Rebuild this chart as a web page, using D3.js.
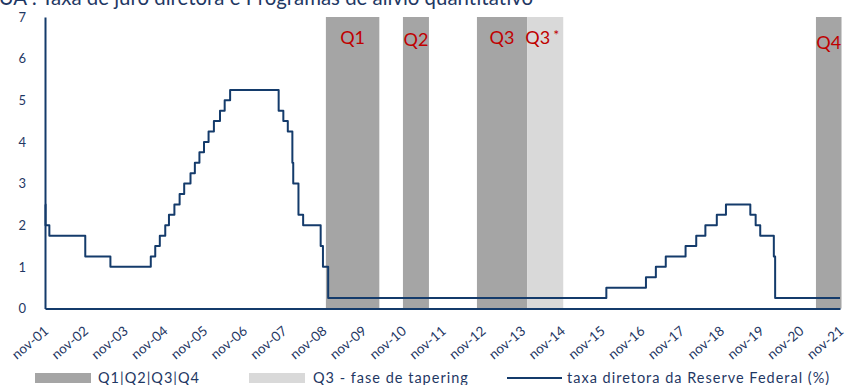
<!DOCTYPE html>
<html>
<head>
<meta charset="utf-8">
<script src="https://cdn.jsdelivr.net/npm/d3@7"></script>
<style>
  html, body { margin: 0; padding: 0; background: #ffffff; }
  svg { display: block; font-family: Lato, "Open Sans", sans-serif; }
</style>
</head>
<body>
<svg id="chart" width="845" height="385"></svg>
<script>
// Fed funds target rate (upper bound), change dates and new level in %
const rateDates = [
  "2001-11-01", "2001-11-06", "2001-12-11", "2002-11-06", "2003-06-25",
  "2004-06-30", "2004-08-10", "2004-09-21", "2004-11-10", "2004-12-14",
  "2005-02-02", "2005-03-22", "2005-05-03", "2005-06-30", "2005-08-09",
  "2005-09-20", "2005-11-01", "2005-12-13", "2006-01-31", "2006-03-28",
  "2006-05-10", "2006-06-29", "2007-09-18", "2007-10-31", "2007-12-11",
  "2008-01-22", "2008-01-30", "2008-03-18", "2008-04-30", "2008-10-08",
  "2008-10-29", "2008-12-16", "2015-12-16", "2016-12-14", "2017-03-15",
  "2017-06-14", "2017-12-13", "2018-03-21", "2018-06-13", "2018-09-26",
  "2018-12-19", "2019-07-31", "2019-09-18", "2019-10-30", "2020-03-03",
  "2020-03-15", "2021-11-01"
];
const rateValues = [
  2.50, 2.00, 1.75, 1.25, 1.00,
  1.25, 1.50, 1.75, 2.00, 2.25,
  2.50, 2.75, 3.00, 3.25, 3.50,
  3.75, 4.00, 4.25, 4.50, 4.75,
  5.00, 5.25, 4.75, 4.50, 4.25,
  3.50, 3.00, 2.25, 2.00, 1.50,
  1.00, 0.25, 0.50, 0.75, 1.00,
  1.25, 1.50, 1.75, 2.00, 2.25,
  2.50, 2.25, 2.00, 1.75, 1.25,
  0.25, 0.25
];

// Quantitative easing programmes (shaded periods)
const qeLabels = ["Q1", "Q2", "Q3", "Q3", "Q4"];
const qeStarts = ["2008-11-25", "2010-11-03", "2012-09-13", "2013-12-18", "2021-03-25"];
const qeEnds   = ["2010-03-31", "2011-06-30", "2013-12-18", "2014-11-15", "2021-11-15"];
const qeTapering = [false, false, false, true, false];

// Axis ticks
const xTickDates = d3.range(2001, 2022).map(y => `${y}-11-01`);
const xTickLabels = d3.range(1, 22).map(y => "nov-" + String(y).padStart(2, "0"));
const yTicks = [0, 1, 2, 3, 4, 5, 6, 7];

const legendLabels = ["Q1|Q2|Q3|Q4", "Q3 - fase de tapering", "taxa diretora da Reserve Federal (%)"];
const titleText = "EUA : Taxa de juro diretora e Programas de alívio quantitativo";

const parse = d3.timeParse("%Y-%m-%d");
const NAVY = "#143b6b";
const TEXT = "#1f3864";
const DARK = "#a5a5a5";
const LIGHT = "#d9d9d9";
const RED = "#c00000";

const margin = { left: 45, right: 5, top: 17, bottom: 76 };
const W = 845, H = 385;

const svg = d3.select("#chart");

const x = d3.scaleTime()
  .domain([parse("2001-11-01"), parse("2021-11-01")])
  .range([margin.left, W - margin.right]);
const y = d3.scaleLinear()
  .domain([0, 7])
  .range([H - margin.bottom - 0.5, margin.top]);

// Title (sits partly above the canvas edge)
svg.append("text")
  .attr("x", 533).attr("y", 5)
  .attr("text-anchor", "end")
  .attr("fill", TEXT)
  .style("font-size", "20.4px")
  .text(titleText);

// Shaded QE periods
const bands = qeLabels.map((l, i) => ({
  label: l, start: parse(qeStarts[i]), end: parse(qeEnds[i]), tapering: qeTapering[i]
}));

svg.append("g").selectAll("rect")
  .data(bands)
  .join("rect")
  .attr("x", d => x(d.start))
  .attr("width", d => x(d.end) - x(d.start))
  .attr("y", y(7))
  .attr("height", y(0) - y(7))
  .attr("fill", d => d.tapering ? LIGHT : DARK);

const bandText = svg.append("g").selectAll("text")
  .data(bands)
  .join("text")
  .attr("x", d => (x(d.start) + x(d.end)) / 2 - (d.tapering ? 3 : 0))
  .attr("y", (d, i) => i === bands.length - 1 ? 49 : (i === 1 ? 46 : 44))
  .attr("text-anchor", "middle")
  .attr("fill", RED)
  .style("font-size", "18px")
  .text(d => d.label);
bandText.filter(d => d.tapering)
  .append("tspan")
  .attr("dx", 3).attr("dy", -4)
  .style("font-size", "14px")
  .text("*");

// Axes
const yAxis = d3.axisLeft(y).tickValues(yTicks).tickSize(0).tickPadding(19).tickFormat(d3.format("d"));
svg.append("g")
  .attr("transform", `translate(${margin.left},0)`)
  .call(yAxis)
  .call(g => g.select(".domain").attr("stroke", NAVY).attr("stroke-width", 2))
  .call(g => g.selectAll("text").attr("fill", TEXT).style("font-size", "13px").style("font-family", "Lato, sans-serif"));

const xAxis = d3.axisBottom(x)
  .tickValues(xTickDates.map(parse))
  .tickSize(0)
  .tickFormat((d, i) => xTickLabels[i]);
svg.append("g")
  .attr("transform", `translate(0,${y(0)})`)
  .call(xAxis)
  .call(g => g.select(".domain").attr("stroke", NAVY).attr("stroke-width", 2))
  .call(g => g.selectAll(".tick text")
    .attr("fill", TEXT)
    .style("font-size", "13.5px")
    .style("font-family", "Lato, sans-serif")
    .attr("text-anchor", "end")
    .attr("dy", null).attr("y", 0)
    .attr("transform", "translate(4,24) rotate(-40)"));

// Policy rate line
const rate = rateDates.map((d, i) => ({ date: parse(d), value: rateValues[i] }));
svg.append("path")
  .datum(rate)
  .attr("fill", "none")
  .attr("stroke", NAVY)
  .attr("stroke-width", 2)
  .attr("stroke-linejoin", "round")
  .attr("d", d3.line().x(d => x(d.date)).y(d => y(d.value)).curve(d3.curveStepAfter));

// Legend
const lg = svg.append("g").style("font-size", "14.5px").style("letter-spacing", "1px");
lg.append("rect").attr("x", 35).attr("y", 373).attr("width", 56).attr("height", 10).attr("fill", DARK);
lg.append("text").attr("x", 98).attr("y", 383).attr("fill", TEXT).text(legendLabels[0]);
lg.append("rect").attr("x", 249).attr("y", 373).attr("width", 56).attr("height", 10).attr("fill", LIGHT);
lg.append("text").attr("x", 313).attr("y", 383).attr("fill", TEXT).text(legendLabels[1]);
lg.append("line").attr("x1", 507).attr("x2", 562).attr("y1", 378).attr("y2", 378)
  .attr("stroke", NAVY).attr("stroke-width", 2);
lg.append("text").attr("x", 567).attr("y", 383).attr("fill", TEXT).text(legendLabels[2]);
</script>
</body>
</html>
